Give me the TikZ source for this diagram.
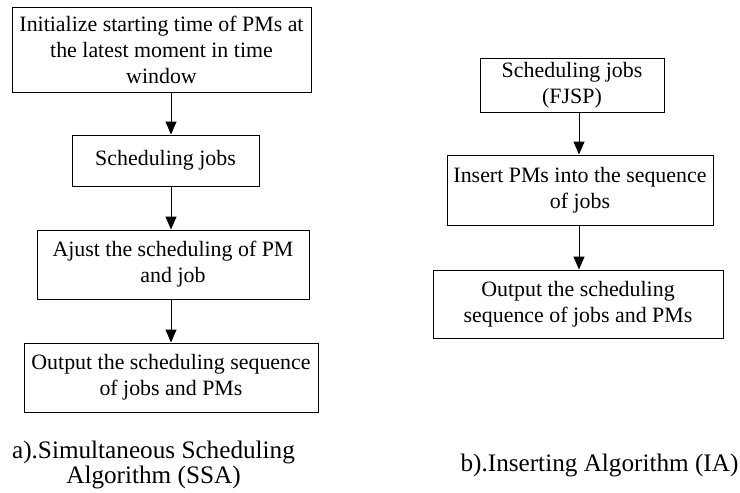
\documentclass[tikz,border=0pt]{standalone}
\usepackage{fontspec}
\setmainfont{Liberation Serif}
\usetikzlibrary{arrows.meta}
\begin{document}
\begin{tikzpicture}[x=1pt,y=1pt,
  box/.style={draw,line width=1pt,inner sep=0pt,align=center,
    font=\fontsize{21.9}{26}\selectfont},
  captxt/.style={inner sep=0pt,align=center,font=\fontsize{25.2}{25}\selectfont},
  arr/.style={line width=1pt,-{Triangle[length=13pt,width=11pt]}}]
\useasboundingbox (0,0) rectangle (740,-493);
% left
\node[box,minimum width=299,minimum height=85] (b1) at (161.5,-49.5)
  {Initialize starting time of PMs at\\the latest moment in time\\window};
\node[box,minimum width=187,minimum height=51] (b2) at (165.5,-160.5) {Scheduling jobs};
\node[box,minimum width=272,minimum height=69] (b3) at (173,-264.5)
  {Ajust the scheduling of PM\\and job};
\node[box,minimum width=294,minimum height=69] (b4) at (171,-377.5)
  {Output the scheduling sequence\\of jobs and PMs};
\coordinate (ax) at (171,0);
\draw[arr] (b1.south -| ax) -- (b2.north -| ax);
\draw[arr] (b2.south -| ax) -- (b3.north -| ax);
\draw[arr] (b3.south -| ax) -- (b4.north -| ax);
\node[captxt] (ca) at (153.5,-465) {a).Simultaneous Scheduling\\Algorithm (SSA)};
% right
\node[box,minimum width=184,minimum height=54] (c1) at (572,-85) {Scheduling jobs\\(FJSP)};
\node[box,minimum width=266,minimum height=70] (c2) at (580,-190)
  {Insert PMs into the sequence\\of jobs};
\node[box,minimum width=290,minimum height=68] (c3) at (578,-304)
  {Output the scheduling\\sequence of jobs and PMs};
\coordinate (bx) at (579,0);
\draw[arr] (c1.south -| bx) -- (c2.north -| bx);
\draw[arr] (c2.south -| bx) -- (c3.north -| bx);
\node[captxt] (cb) at (599.5,-465) {b).Inserting Algorithm (IA)};
\end{tikzpicture}
\end{document}
